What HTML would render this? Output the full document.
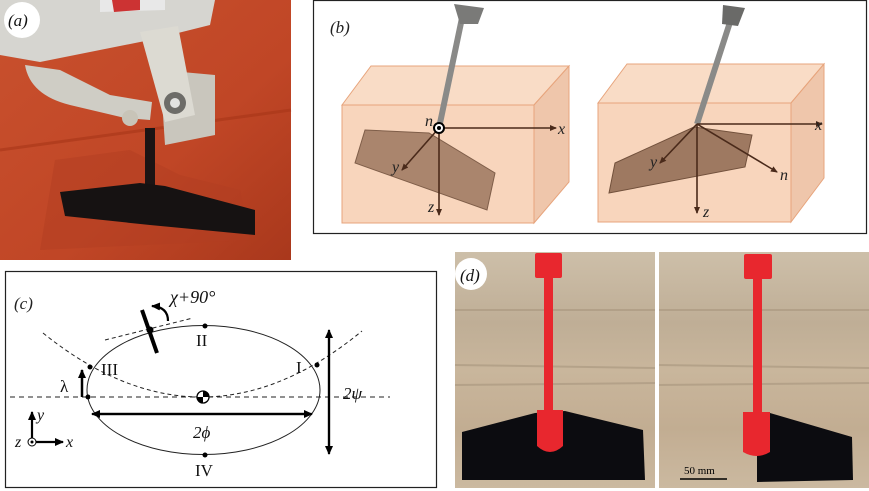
<!DOCTYPE html>
<html><head><meta charset="utf-8"><style>
html,body{margin:0;padding:0;background:#fff;width:869px;height:491px;overflow:hidden}
svg{display:block}
text{font-family:"Liberation Serif",serif}
</style></head><body>
<svg width="869" height="491" viewBox="0 0 869 491" xmlns="http://www.w3.org/2000/svg">
<defs>
<marker id="ab" markerWidth="8" markerHeight="8" refX="6" refY="3" orient="auto" markerUnits="userSpaceOnUse"><path d="M0,0 L7,3 L0,6 z" fill="#4a2a1a"/></marker>
<marker id="ak" markerWidth="10" markerHeight="10" refX="8" refY="4" orient="auto" markerUnits="userSpaceOnUse"><path d="M0,0 L9,4 L0,8 z" fill="#000"/></marker>
<linearGradient id="red" x1="0" y1="0" x2="1" y2="1"><stop offset="0" stop-color="#c9512e"/><stop offset="0.6" stop-color="#c04626"/><stop offset="1" stop-color="#a9381c"/></linearGradient>
<linearGradient id="wood" x1="0" y1="0" x2="0" y2="1"><stop offset="0" stop-color="#cdbfa9"/><stop offset="0.3" stop-color="#bfae96"/><stop offset="0.5" stop-color="#c9b69c"/><stop offset="0.75" stop-color="#c2ad92"/><stop offset="1" stop-color="#cbb9a0"/></linearGradient>
</defs>

<!-- (a) photo -->
<rect x="0" y="0" width="291" height="260" fill="url(#red)"/>
<path d="M0,150 L291,110" stroke="#a83618" stroke-width="3" opacity="0.6"/>
<path d="M55,160 L130,150 L180,175 L240,190 L250,240 L40,250z" fill="#b23e22" opacity="0.5"/>
<path d="M0,0 L215,0 L210,25 L150,40 L40,62 L0,55z" fill="#d6d5d0"/>
<path d="M25,65 Q30,95 70,105 L125,118 L150,120 L152,102 L110,95 L60,70z" fill="#cfcdc5"/>
<path d="M100,0 L165,0 L165,10 L100,12z" fill="#e8e8e8"/>
<path d="M112,0 L140,0 L140,10 L114,12z" fill="#c33"/>
<path d="M160,70 L215,75 L215,135 L165,145z" fill="#c9c6bd"/>
<path d="M140,32 L178,26 L195,115 L165,122z" fill="#dcdad2"/>
<circle cx="130" cy="118" r="8" fill="#c8c4b8"/>
<circle cx="175" cy="103" r="11" fill="#6d6c68"/>
<circle cx="175" cy="103" r="5" fill="#e2e2e0"/>
<rect x="145" y="128" width="10" height="60" fill="#1c1414"/>
<path d="M60,192 L140,183 L165,186 L255,210 L255,235 L150,225 L65,216z" fill="#161212"/>
<circle cx="22" cy="20" r="18" fill="#fff"/>
<text x="8" y="26" font-size="17" font-style="italic" fill="#111">(a)</text>

<!-- (b) -->
<rect x="313.5" y="0.5" width="553" height="233" fill="#fff" stroke="#222" stroke-width="1.2"/>
<text x="330" y="33" font-size="17" font-style="italic" fill="#222">(b)</text>
<g fill="#f7d2b8" stroke="#e7a47c" stroke-width="1">
<path d="M342,105 L371,66 L569,66 L534,105z" fill="#f9dcc6"/>
<path d="M534,105 L569,66 L569,182 L534,223z" fill="#efc6ab"/>
<rect x="342" y="105" width="192" height="118" fill="#f8d5bc"/>
<path d="M598,103 L627,64 L824,64 L791,103z" fill="#f9dcc6"/>
<path d="M791,103 L824,64 L824,178 L791,222z" fill="#efc6ab"/>
<rect x="598" y="103" width="193" height="119" fill="#f8d5bc"/>
</g>
<path d="M365,130 L429,133 L495,173 L487,210 L355,163z" fill="#9d7860" stroke="#6b4a36" opacity="0.85"/>
<path d="M694,127 L752,135 L745,167 L609,193 L615,163z" fill="#8f6a52" stroke="#5b3a26" opacity="0.85"/>
<path d="M439,128 L462,18" stroke="#8a8a88" stroke-width="6"/>
<path d="M697,124 L732,16" stroke="#8a8a88" stroke-width="6"/>
<path d="M454,4 L484,8 L478,24 L460,24z" fill="#7a7a78"/>
<path d="M723,5 L745,8 L738,26 L722,24z" fill="#6a6a68"/>
<g stroke="#4a2a1a" stroke-width="1.6" marker-end="url(#ab)">
<line x1="439" y1="128" x2="556" y2="128"/>
<line x1="439" y1="128" x2="439" y2="215"/>
<line x1="439" y1="128" x2="402" y2="170"/>
<line x1="697" y1="124" x2="822" y2="124"/>
<line x1="697" y1="124" x2="697" y2="213"/>
<line x1="697" y1="124" x2="660" y2="163"/>
<line x1="697" y1="124" x2="777" y2="172"/>
</g>
<circle cx="439" cy="128" r="5" fill="#fff" stroke="#000" stroke-width="2"/>
<circle cx="439" cy="128" r="2" fill="#000"/>
<g font-size="16" font-style="italic" fill="#222">
<text x="425" y="126">n</text><text x="558" y="134">x</text><text x="392" y="172">y</text><text x="428" y="212">z</text>
<text x="815" y="130">x</text><text x="650" y="167">y</text><text x="703" y="217">z</text><text x="780" y="180">n</text>
</g>

<!-- (c) -->
<rect x="5.5" y="271.5" width="431" height="216" fill="#fff" stroke="#222" stroke-width="1.2"/>
<text x="14" y="309" font-size="17" font-style="italic" fill="#222">(c)</text>
<ellipse cx="203.5" cy="390" rx="116.5" ry="64.5" fill="none" stroke="#222" stroke-width="1"/>
<line x1="10" y1="397" x2="390" y2="397" stroke="#222" stroke-dasharray="5,4"/>
<path d="M43,333 Q203,462 362,331" fill="none" stroke="#222" stroke-dasharray="4,3"/>
<line x1="105" y1="340" x2="193" y2="318" stroke="#222" stroke-dasharray="4,3"/>
<line x1="142" y1="310" x2="157" y2="353" stroke="#000" stroke-width="4"/>
<circle cx="150" cy="330" r="3.5" fill="#000"/>
<path d="M168,321 Q168,307 152,306" fill="none" stroke="#000" stroke-width="2.2" marker-end="url(#ak)"/>
<text x="170" y="303" font-size="18" font-style="italic" fill="#111">χ+90°</text>
<g fill="#000"><circle cx="205" cy="326" r="2.5"/><circle cx="317" cy="365" r="2.5"/><circle cx="90" cy="367" r="2.5"/><circle cx="205" cy="455" r="2.5"/><circle cx="88" cy="397" r="2.5"/></g>
<circle cx="203" cy="397" r="6" fill="#fff" stroke="#000" stroke-width="1.3"/>
<path d="M203,391 A6,6 0 0 1 209,397 L203,397z M203,403 A6,6 0 0 1 197,397 L203,397z" fill="#000"/>
<g font-size="17" fill="#111">
<text x="196" y="346">II</text><text x="296" y="373">I</text><text x="101" y="375">III</text><text x="195" y="476">IV</text>
<text x="60" y="392">λ</text><text x="193" y="438" font-style="italic">2ϕ</text><text x="343" y="399" font-style="italic">2ψ</text>
</g>
<line x1="82" y1="397" x2="82" y2="370" stroke="#000" stroke-width="2.5" marker-end="url(#ak)"/>
<line x1="98" y1="414" x2="312" y2="414" stroke="#000" stroke-width="2.2" marker-end="url(#ak)"/>
<line x1="310" y1="414" x2="92" y2="414" stroke="#000" stroke-width="2.2" marker-end="url(#ak)"/>
<line x1="329" y1="335" x2="329" y2="454" stroke="#000" stroke-width="2.2" marker-end="url(#ak)"/>
<line x1="329" y1="450" x2="329" y2="330" stroke="#000" stroke-width="2.2" marker-end="url(#ak)"/>
<line x1="32" y1="442" x2="32" y2="412" stroke="#000" stroke-width="2.2" marker-end="url(#ak)"/>
<line x1="32" y1="442" x2="63" y2="442" stroke="#000" stroke-width="2.2" marker-end="url(#ak)"/>
<circle cx="32" cy="442" r="4" fill="#fff" stroke="#000"/><circle cx="32" cy="442" r="1.5" fill="#000"/>
<g font-size="16" font-style="italic" fill="#111"><text x="37" y="420">y</text><text x="66" y="447">x</text><text x="15" y="447">z</text></g>

<!-- (d) -->
<rect x="455" y="252" width="200" height="236" fill="url(#wood)"/>
<rect x="659" y="252" width="210" height="236" fill="url(#wood)"/>
<g stroke="#a8967e" stroke-width="2" opacity="0.6">
<line x1="455" y1="310" x2="655" y2="310"/><line x1="455" y1="365" x2="655" y2="368"/><line x1="455" y1="385" x2="655" y2="383"/>
<line x1="659" y1="310" x2="869" y2="310"/><line x1="659" y1="365" x2="869" y2="368"/><line x1="659" y1="385" x2="869" y2="383"/>
</g>
<path d="M462,432 L535,413 L565,411 L643,430 L645,480 L462,480z" fill="#0c0c10"/>
<path d="M770,413 L852,437 L853,480 L757,482 L757,453z" fill="#0c0c10"/>
<g fill="#e8272e">
<rect x="535" y="253" width="27" height="25" rx="2"/>
<path d="M544,276 L553,276 L553,410 L544,410z"/>
<path d="M537,410 L563,410 L563,446 Q550,458 537,446z"/>
<rect x="744" y="254" width="28" height="25" rx="2"/>
<path d="M753,277 L762,277 L762,412 L753,412z"/>
<path d="M743,412 L770,412 L770,452 Q757,460 743,452z"/>
</g>
<circle cx="471" cy="274" r="16" fill="#fff"/>
<text x="460" y="281" font-size="17" font-style="italic" fill="#111">(d)</text>
<line x1="680" y1="479" x2="727" y2="479" stroke="#000" stroke-width="1.5"/>
<text x="684" y="474" font-size="11" fill="#000">50 mm</text>
</svg>
</body></html>
